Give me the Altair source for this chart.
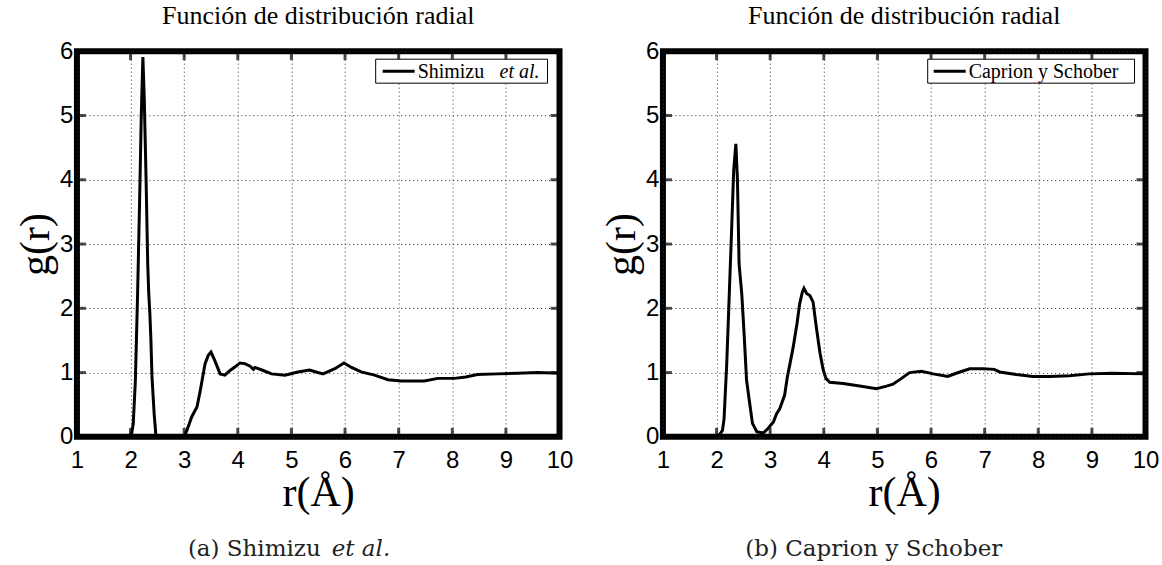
import altair as alt
import pandas as pd

# ---- data: panel (a) Shimizu et al.
r_a = [1.0, 1.96, 2.02, 2.05, 2.09, 2.13, 2.17, 2.20, 2.23, 2.255, 2.29, 2.32, 2.34, 2.36,
       2.38, 2.40, 2.44, 2.47, 2.49, 3.0, 3.05, 3.14, 3.24, 3.30, 3.39, 3.45, 3.50, 3.57,
       3.67, 3.76, 3.85, 3.95, 4.04, 4.13, 4.23, 4.29, 4.32, 4.45, 4.63, 4.88, 5.12, 5.34,
       5.46, 5.59, 5.81, 5.98, 6.12, 6.30, 6.55, 6.80, 7.05, 7.48, 7.73, 8.04, 8.25, 8.47,
       8.84, 9.22, 9.59, 10.0]
g_a = [0.0, 0.0, 0.05, 0.2, 0.88, 2.17, 3.72, 5.0, 5.91, 5.28, 3.99, 2.69, 2.22, 1.92,
       1.5, 0.93, 0.36, 0.05, 0.0, 0.0, 0.1, 0.31, 0.47, 0.72, 1.14, 1.27, 1.32, 1.19,
       0.98, 0.96, 1.03, 1.09, 1.15, 1.14, 1.10, 1.05, 1.08, 1.04, 0.98, 0.96, 1.01, 1.04,
       1.01, 0.98, 1.06, 1.15, 1.08, 1.01, 0.96, 0.89, 0.87, 0.87, 0.91, 0.91, 0.93, 0.97,
       0.98, 0.99, 1.0, 0.99]

# ---- data: panel (b) Caprion y Schober
r_b = [1.0, 1.97, 2.06, 2.11, 2.14, 2.19, 2.24, 2.28, 2.32, 2.36, 2.39, 2.42, 2.47, 2.51,
       2.56, 2.61, 2.67, 2.75, 2.87, 2.96, 3.06, 3.12, 3.18, 3.27, 3.32, 3.37, 3.43, 3.50,
       3.55, 3.60, 3.63, 3.68, 3.74, 3.80, 3.86, 3.93, 3.99, 4.04, 4.11, 4.36, 4.67, 4.98,
       5.17, 5.29, 5.45, 5.60, 5.82, 6.04, 6.31, 6.47, 6.72, 6.97, 7.18, 7.28, 7.59, 7.90,
       8.21, 8.58, 8.95, 9.38, 10.0]
g_b = [0.0, 0.0, 0.04, 0.1, 0.28, 1.14, 2.28, 3.2, 4.15, 4.56, 3.99, 2.69, 2.23, 1.66,
       0.88, 0.57, 0.21, 0.08, 0.06, 0.13, 0.23, 0.36, 0.44, 0.65, 0.93, 1.14, 1.40, 1.76,
       2.07, 2.25, 2.31, 2.23, 2.20, 2.10, 1.71, 1.30, 1.04, 0.91, 0.85, 0.83, 0.79, 0.75,
       0.79, 0.82, 0.91, 1.0, 1.02, 0.98, 0.94, 0.99, 1.06, 1.06, 1.05, 1.01, 0.97, 0.94,
       0.94, 0.95, 0.98, 0.99, 0.98]

x_ticks = [1, 2, 3, 4, 5, 6, 7, 8, 9, 10]
y_ticks = [0, 1, 2, 3, 4, 5, 6]

TITLE = "Función de distribución radial"
W, H = 483, 386
SERIF = "Liberation Serif"
SANS = "Liberation Sans"
CAPFONT = "DejaVu Serif"


def panel(r, g, legend_parts, legend_box, caption_parts):
    df = pd.DataFrame({"r": r, "g": g})
    xs = alt.Scale(domain=[1, 10], nice=False, zero=False)
    ys = alt.Scale(domain=[0, 6], nice=False, zero=False)
    common = dict(grid=True, gridColor="#333333", gridDash=[1, 3], gridWidth=1,
                  ticks=False, domain=False, labelFont=SANS, labelFontSize=24,
                  labelColor="black", labelFlush=False, labelOverlap=False, format="d",
                  titleFont=SERIF, titleFontSize=42, titleFontWeight="normal",
                  titleColor="black")
    x = alt.X("r:Q", scale=xs, axis=alt.Axis(values=x_ticks, title="r(Å)", labelPadding=12,
                                             titlePadding=0, **common))
    y = alt.Y("g:Q", scale=ys, axis=alt.Axis(values=y_ticks, title="g(r)", labelPadding=4,
                                             titlePadding=2, **common))
    line = alt.Chart(df).mark_line(color="black", strokeWidth=3).encode(x=x, y=y)

    tk = dict(color="black", size=9, thickness=3)
    bot = pd.DataFrame({"r": x_ticks, "g": [0] * len(x_ticks)})
    top = pd.DataFrame({"r": x_ticks, "g": [6] * len(x_ticks)})
    lft = pd.DataFrame({"r": [1] * len(y_ticks), "g": y_ticks})
    rgt = pd.DataFrame({"r": [10] * len(y_ticks), "g": y_ticks})
    enc = dict(x=alt.X("r:Q", scale=xs), y=alt.Y("g:Q", scale=ys))
    t_bot = alt.Chart(bot).mark_tick(orient="vertical", yOffset=-4.5, **tk).encode(**enc)
    t_top = alt.Chart(top).mark_tick(orient="vertical", yOffset=4.5, **tk).encode(**enc)
    t_lft = alt.Chart(lft).mark_tick(orient="horizontal", xOffset=4.5, **tk).encode(**enc)
    t_rgt = alt.Chart(rgt).mark_tick(orient="horizontal", xOffset=-4.5, **tk).encode(**enc)

    bx1, bx2, by1, by2, lx1, lx2 = legend_box
    one = pd.DataFrame({"k": [0]})
    box = alt.Chart(one).mark_rect(fill="white", stroke="black", strokeWidth=1).encode(
        x=alt.value(bx1), x2=alt.value(bx2), y=alt.value(by1), y2=alt.value(by2))
    sample = alt.Chart(one).mark_rule(color="black", strokeWidth=3).encode(
        x=alt.value(lx1), x2=alt.value(lx2), y=alt.value((by1 + by2) / 2))
    layers = [line, t_bot, t_top, t_lft, t_rgt, box, sample]
    for txt, xpos, style in legend_parts:
        tdf = pd.DataFrame({"t": [txt]})
        layers.append(alt.Chart(tdf).mark_text(align="left", baseline="middle", font=SERIF,
                                               fontSize=20, fontStyle=style, color="black").encode(
            x=alt.value(xpos), y=alt.value((by1 + by2) / 2 + 1), text="t:N"))
    for txt, xpos, align, style in caption_parts:
        cdf = pd.DataFrame({"t": [txt]})
        layers.append(alt.Chart(cdf).mark_text(align=align, baseline="middle", font=CAPFONT,
                                               fontSize=23, fontStyle=style, color="#222222").encode(
            x=alt.value(xpos), y=alt.value(498), text="t:N"))
    return alt.layer(*layers).properties(
        width=W, height=H,
        title=alt.TitleParams(TITLE, font=SERIF, fontSize=26, fontWeight="normal",
                              color="black", offset=10, anchor="middle"))


left = panel(r_a, g_a,
             [("Shimizu", 341, "normal"), ("et al.", 423, "italic")],
             (299, 471, 8, 32, 306, 338),
             [("(a) Shimizu", 244, "right", "normal"), ("et al.", 255, "left", "italic")])
right = panel(r_b, g_b,
              [("Caprion y Schober", 306, "normal")],
              (265, 472, 8, 32, 271, 303),
              [("(b) Caprion y Schober", 211, "center", "normal")])

chart = alt.hconcat(left, right, spacing=103.5, bounds="flush").properties(
    padding={"left": 11, "top": 0, "right": 0, "bottom": 0},
    background="white",
).configure_view(stroke="black", strokeWidth=6)

chart.save("out.html", embed_options={"renderer": "svg", "actions": False})
